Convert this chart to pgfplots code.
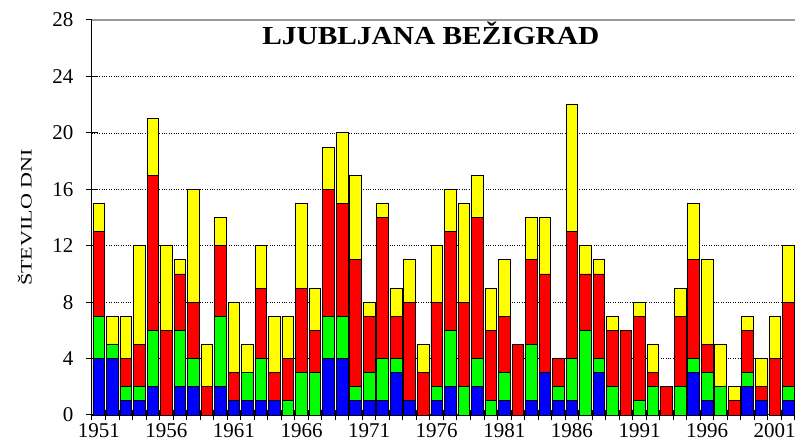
\documentclass[border=0pt]{standalone}
\usepackage{pgfplots}
\usepackage{pgfplotstable}
\pgfplotsset{compat=1.18}
\usepackage{fontspec}
\setmainfont{Liberation Serif}
\definecolor{cblue}{RGB}{0,0,255}
\definecolor{cgreen}{RGB}{0,255,0}
\definecolor{cred}{RGB}{255,0,0}
\definecolor{cyellow}{RGB}{255,255,0}
\pgfplotstableread{
year b g r y
1951 4 3 6 2
1952 4 1 0 2
1953 1 1 2 3
1954 1 1 3 7
1955 2 4 11 4
1956 0 0 6 6
1957 2 4 4 1
1958 2 2 4 8
1959 0 0 2 3
1960 2 5 5 2
1961 1 0 2 5
1962 1 2 0 2
1963 1 3 5 3
1964 1 0 2 4
1965 0 1 3 3
1966 0 3 6 6
1967 0 3 3 3
1968 4 3 9 3
1969 4 3 8 5
1970 1 1 9 6
1971 1 2 4 1
1972 1 3 10 1
1973 3 1 3 2
1974 1 0 7 3
1975 0 0 3 2
1976 1 1 6 4
1977 2 4 7 3
1978 0 2 6 7
1979 2 2 10 3
1980 0 1 5 3
1981 1 2 4 4
1982 0 0 5 0
1983 1 4 6 3
1984 3 0 7 4
1985 1 1 2 0
1986 1 3 9 9
1987 0 6 4 2
1988 3 1 6 1
1989 0 2 4 1
1990 0 0 6 0
1991 0 1 6 1
1992 0 2 1 2
1993 0 0 2 0
1994 0 2 5 2
1995 3 1 7 4
1996 1 2 2 6
1997 0 2 0 3
1998 0 0 1 1
1999 2 1 3 1
2000 1 0 1 2
2001 0 0 4 3
2002 1 1 6 4
}\datatable
\begin{document}
\begin{tikzpicture}
\path[use as bounding box] (-92pt,-26pt) rectangle (703pt,415pt);
\begin{axis}[
  scale only axis, width=703pt, height=395pt,
  xmin=1950.5, xmax=2002.5, ymin=0, ymax=28,
  ybar stacked, bar width=0.86,
  axis x line*=bottom, axis y line*=left,
  axis line style={-, black, line width=1pt},
  clip=false,
  ytick={0,4,...,28},
  xtick={1951,1956,...,2001},
  minor xtick={1950.5,1951.5,...,2002.5},
  major x tick style={draw=none},
  tick align=center,
  tick style={black, line width=1pt},
  major tick length=12pt, minor tick length=10pt,
  ymajorgrids,
  major grid style={black, dotted, line width=0.7pt},
  /pgf/number format/assume math mode=true,
  /pgf/number format/1000 sep={},
  tick label style={font=\fontsize{21}{21}\selectfont},
  yticklabel style={xshift=-9pt},
  xticklabel style={yshift=1pt},
  every axis plot/.append style={draw=black, line width=0.8pt},
]
\addplot[fill=cblue] table[x=year, y=b] {\datatable};
\addplot[fill=cgreen] table[x=year, y=g] {\datatable};
\addplot[fill=cred] table[x=year, y=r] {\datatable};
\addplot[fill=cyellow] table[x=year, y=y] {\datatable};
\draw[gray!80, line width=1.5pt] (rel axis cs:0,1) -- (rel axis cs:1,1);
\node[anchor=base, font=\bfseries\fontsize{26}{26}\selectfont] at ([yshift=-25pt]rel axis cs:0.482,1) {\scalebox{1.13}[1]{LJUBLJANA BEŽIGRAD}};
\node[rotate=90, font=\fontsize{16}{16}\selectfont] at ([xshift=-67pt]rel axis cs:0,0.5) {\scalebox{1.38}[1]{ŠTEVILO DNI}};
\end{axis}
\end{tikzpicture}
\end{document}
